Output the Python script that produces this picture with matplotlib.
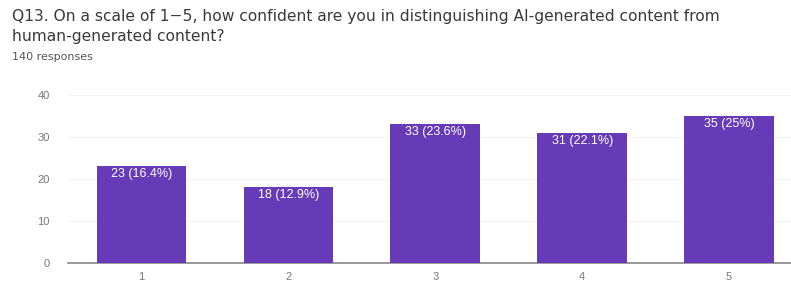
import matplotlib
matplotlib.use("Agg")
import matplotlib.pyplot as plt

categories = ["1", "2", "3", "4", "5"]
counts = [23, 18, 33, 31, 35]
labels = ["23 (16.4%)", "18 (12.9%)", "33 (23.6%)", "31 (22.1%)", "35 (25%)"]
yticks = [0, 10, 20, 30, 40]

W, H = 791, 283
fig = plt.figure(figsize=(W / 100, H / 100), dpi=100)
fig.patch.set_facecolor("white")

FAM = "Liberation Sans"
TFAM = "DejaVu Sans"
fig.text(12 / W, 1 - 17 / H,
         "Q13. On a scale of 1\u22125, how confident are you in distinguishing AI-generated content from",
         fontsize=11.2, color="#3a3a3a", va="center", ha="left", family=TFAM)
fig.text(12 / W, 1 - 37 / H, "human-generated content?",
         fontsize=11.2, color="#3a3a3a", va="center", ha="left", family=TFAM)
fig.text(12 / W, 1 - 57 / H, "140 responses",
         fontsize=8, color="#555555", va="center", ha="left", family=TFAM)

left, right = 68, 791
bottom_px, top_px = 262.7, 95
ax = fig.add_axes([left / W, 1 - bottom_px / H, (right - left) / W, (bottom_px - top_px) / H])

x = list(range(1, len(categories) + 1))
bars = ax.bar(x, counts, width=0.61, color="#673ab7", zorder=3)
for xi, c, lab in zip(x, counts, labels):
    ax.text(xi, c - 1.9, lab, ha="center", va="center", color="white",
            fontsize=9, family=FAM, zorder=4)

ax.set_xlim(0.5, 4 + (791 - 729) / 147 + 1)
ax.set_ylim(0, 40)
ax.set_yticks(yticks)
ax.set_xticks(x)
ax.set_xticklabels(categories)
ax.grid(axis="y", color="#f3f3f3", linewidth=0.8, zorder=0)
for s in ["top", "right", "left"]:
    ax.spines[s].set_visible(False)
ax.spines["bottom"].set_color("#888888")
ax.spines["bottom"].set_linewidth(1.2)
ax.tick_params(axis="both", length=0, labelsize=8, labelcolor="#777777")
ax.tick_params(axis="y", pad=13)
ax.tick_params(axis="x", pad=7)
for t in ax.get_xticklabels() + ax.get_yticklabels():
    t.set_family(FAM)

fig.savefig("out.png", dpi=100)
